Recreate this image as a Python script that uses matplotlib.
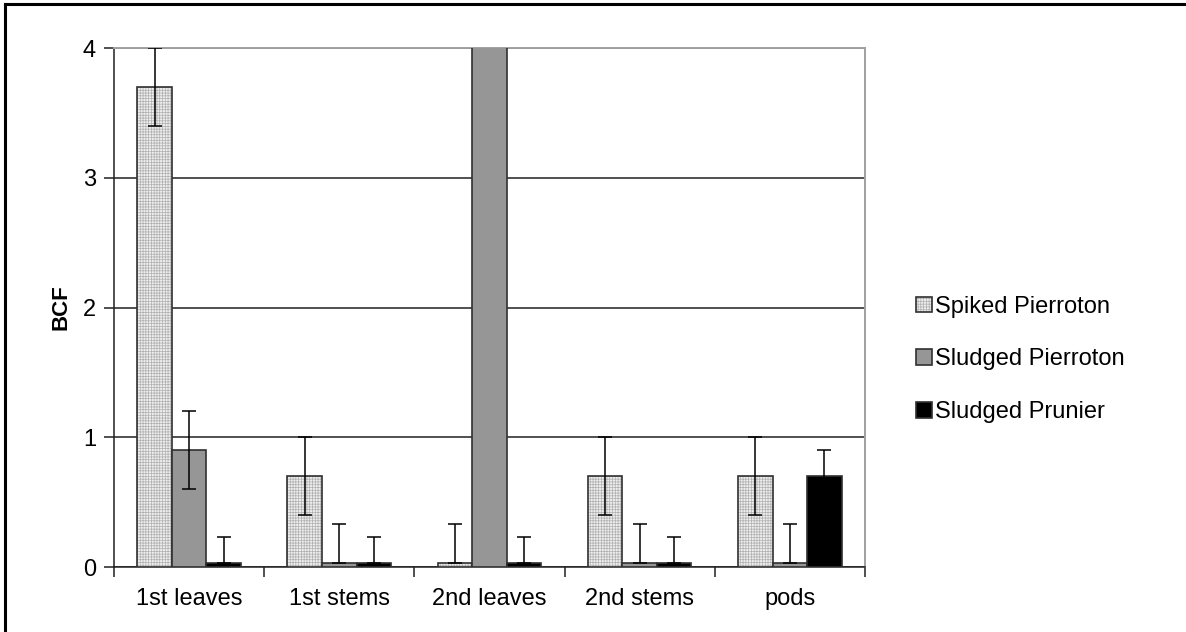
import numpy as np
import matplotlib
matplotlib.use('Agg')
import matplotlib.pyplot as plt
from matplotlib.lines import Line2D

plt.rcParams['font.family'] = ['Liberation Sans', 'DejaVu Sans']
plt.rcParams['hatch.linewidth'] = 0.5

# data
categories = ['1st leaves', '1st stems', '2nd leaves', '2nd stems', 'pods']
series = ['Spiked Pierroton', 'Sludged Pierroton', 'Sludged Prunier']
values = {
    'Spiked Pierroton': [3.7, 0.7, 0.03, 0.7, 0.7],
    'Sludged Pierroton': [0.9, 0.03, 4.5, 0.03, 0.03],
    'Sludged Prunier': [0.03, 0.03, 0.03, 0.03, 0.7],
}
err_low = {
    'Spiked Pierroton': [0.3, 0.3, 0.0, 0.3, 0.3],
    'Sludged Pierroton': [0.3, 0.0, 0.0, 0.0, 0.0],
    'Sludged Prunier': [0.0, 0.0, 0.0, 0.0, 0.2],
}
err_high = {
    'Spiked Pierroton': [0.3, 0.3, 0.3, 0.3, 0.3],
    'Sludged Pierroton': [0.3, 0.3, 0.0, 0.3, 0.3],
    'Sludged Prunier': [0.2, 0.2, 0.2, 0.2, 0.2],
}
styles = {
    'Spiked Pierroton': dict(facecolor='#eeeeee', hatch='++++++'),
    'Sludged Pierroton': dict(facecolor='#969696', hatch=None),
    'Sludged Prunier': dict(facecolor='#000000', hatch=None),
}

fig = plt.figure(figsize=(11.86, 6.32), dpi=100)
ax = fig.add_axes([0.0961, 0.1028, 0.6332, 0.8212])

x = np.arange(len(categories))
w = 0.23
for i, s in enumerate(series):
    pos = x + (i - 1) * w
    st = styles[s]
    ax.bar(pos, values[s], width=w, facecolor=st['facecolor'], hatch=st['hatch'],
           edgecolor='#303030', linewidth=1.2, zorder=3, label=s)
    ax.errorbar(pos, values[s], yerr=[err_low[s], err_high[s]], fmt='none',
                ecolor='black', elinewidth=1.1, capsize=5, capthick=1.1, zorder=4)

# lighter hatch colour for the dotted bars
for p in ax.patches:
    if p.get_hatch():
        p._hatch_color = matplotlib.colors.to_rgba('#b0b0b0')

ax.set_xlim(-0.5, len(categories) - 0.5)
ax.set_ylim(0, 4)
ax.set_yticks([0, 1, 2, 3, 4])
ax.set_xticks(np.arange(len(categories) + 1) - 0.5, minor=True)
ax.set_xticks(x)
ax.set_xticklabels(categories, fontsize=17)
ax.tick_params(axis='x', which='major', length=0, pad=15)
ax.tick_params(axis='x', which='minor', length=7, width=1.1, color='#202020')
ax.tick_params(axis='y', length=7, width=1.1, color='#202020', labelsize=17, pad=6)
ax.yaxis.grid(True, color='#202020', linewidth=1.1, zorder=0)
ax.set_axisbelow(True)

ax.spines['left'].set_color('#202020')
ax.spines['bottom'].set_color('#202020')
ax.spines['left'].set_linewidth(1.1)
ax.spines['bottom'].set_linewidth(1.1)
ax.spines['top'].set_color('#a0a0a0')
ax.spines['right'].set_color('#a0a0a0')
ax.spines['top'].set_linewidth(1.4)
ax.spines['right'].set_linewidth(1.4)

ax.set_ylabel('BCF', fontsize=16, fontweight='bold', labelpad=8)

leg = ax.legend(loc='center left', bbox_to_anchor=(1.04, 0.40), frameon=False,
                fontsize=17, handlelength=0.65, handleheight=0.65,
                handletextpad=0.15, labelspacing=1.3)

# outer border: top and left edges only
fig.add_artist(Line2D([0.0045, 1.0], [0.9935, 0.9935], color='black', linewidth=2.2,
                      transform=fig.transFigure))
fig.add_artist(Line2D([0.0045, 0.0045], [0.0, 0.9935], color='black', linewidth=2.2,
                      transform=fig.transFigure))

fig.savefig('out.png', dpi=100)
